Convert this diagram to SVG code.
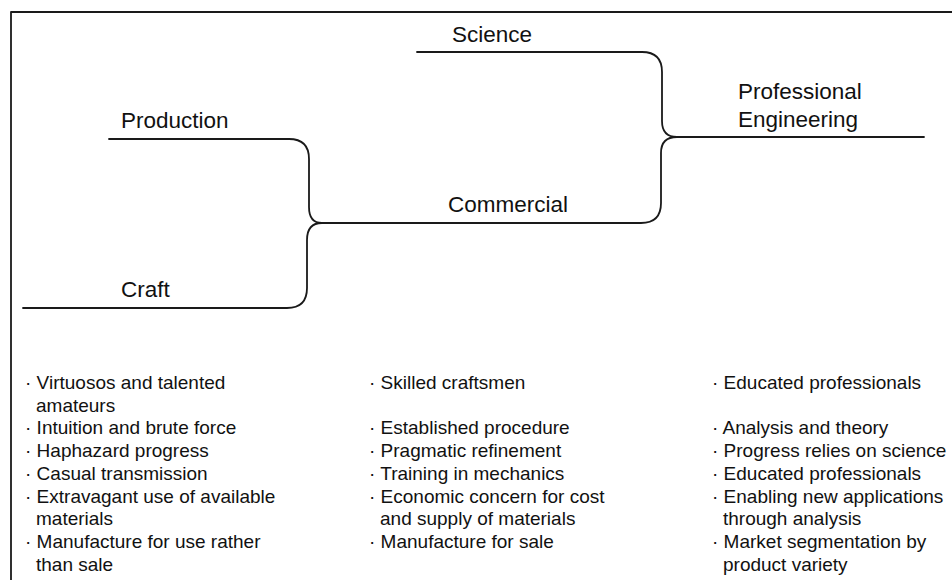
<svg xmlns="http://www.w3.org/2000/svg" width="952" height="580" viewBox="0 0 952 580">
<style>
.ln{fill:none;stroke:#1a1a1a;stroke-width:1.8;stroke-linecap:round;stroke-linejoin:round}
.lbl{font-family:"Liberation Sans",Arial,sans-serif;font-size:22.5px;fill:#111}
.it{font-family:"Liberation Sans",Arial,sans-serif;font-size:19px;fill:#111}
</style>
<rect width="952" height="580" fill="#fff"/>
<path class="ln" d="M952,12 H11 V580" stroke-width="2"/>
<g id="connectors">
<path class="ln" d="M109,139 H289 Q309,139 309,159 V207 Q309,223 322,223"/>
<path class="ln" d="M322,223 Q307,223 307,240 V288 Q307,308 287,308 H23"/>
<path class="ln" d="M417,52 H642 Q662,52 662,72 V121 Q662,137 677,137 H924"/>
<path class="ln" d="M677,137 Q661,137 661,153 V203 Q661,223 641,223 H322"/>
</g>
<g id="science"><text class="lbl" x="452" y="42">Science</text></g>
<g id="production"><text class="lbl" x="121" y="128">Production</text></g>
<g id="craft"><text class="lbl" x="121" y="297">Craft</text></g>
<g id="commercial"><text class="lbl" x="448" y="212">Commercial</text></g>
<g id="professional-engineering"><text class="lbl" x="738" y="99">Professional</text><text class="lbl" x="738" y="127">Engineering</text></g>
<g id="craft-list">
<text class="it" x="25" y="389">· Virtuosos and talented</text>
<text class="it" x="36" y="411.7">amateurs</text>
<text class="it" x="25" y="434.4">· Intuition and brute force</text>
<text class="it" x="25" y="457.1">· Haphazard progress</text>
<text class="it" x="25" y="479.8">· Casual transmission</text>
<text class="it" x="25" y="502.5">· Extravagant use of available</text>
<text class="it" x="36" y="525.2">materials</text>
<text class="it" x="25" y="547.9">· Manufacture for use rather</text>
<text class="it" x="36" y="570.6">than sale</text>
</g>
<g id="commercial-list">
<text class="it" x="369" y="389">· Skilled craftsmen</text>
<text class="it" x="369" y="434.4">· Established procedure</text>
<text class="it" x="369" y="457.1">· Pragmatic refinement</text>
<text class="it" x="369" y="479.8">· Training in mechanics</text>
<text class="it" x="369" y="502.5">· Economic concern for cost</text>
<text class="it" x="380" y="525.2">and supply of materials</text>
<text class="it" x="369" y="547.9">· Manufacture for sale</text>
</g>
<g id="professional-list">
<text class="it" x="712" y="389">· Educated professionals</text>
<text class="it" x="712" y="434.4">· Analysis and theory</text>
<text class="it" x="712" y="457.1">· Progress relies on science</text>
<text class="it" x="712" y="479.8">· Educated professionals</text>
<text class="it" x="712" y="502.5">· Enabling new applications</text>
<text class="it" x="723" y="525.2">through analysis</text>
<text class="it" x="712" y="547.9">· Market segmentation by</text>
<text class="it" x="723" y="570.6">product variety</text>
</g>
</svg>
